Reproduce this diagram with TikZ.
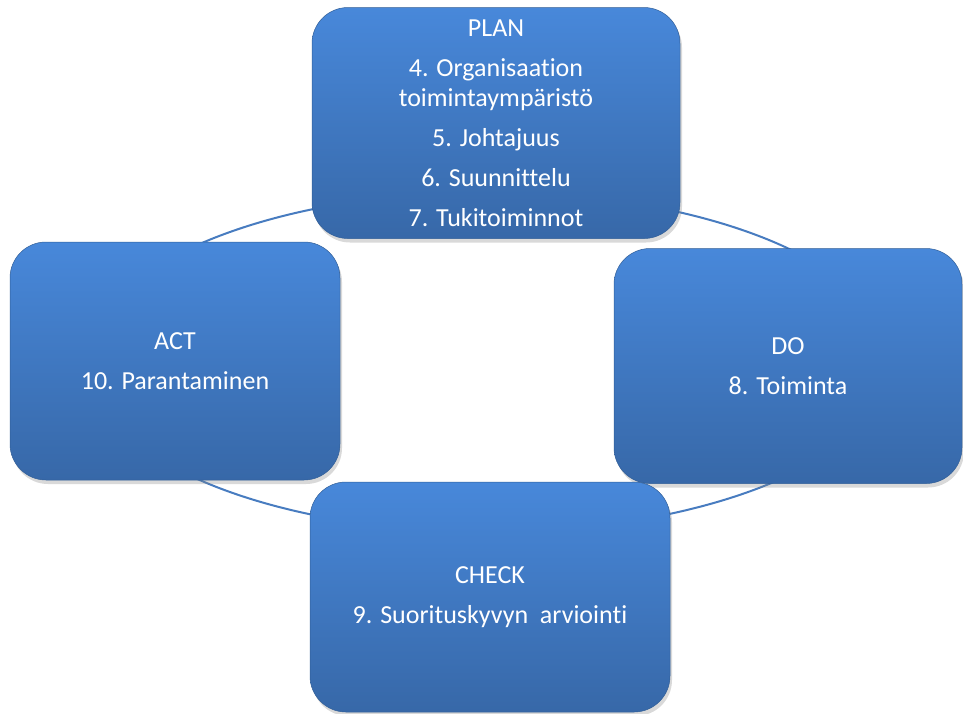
\documentclass[tikz,border=0pt]{standalone}
\usepackage{fontspec}
\setmainfont{Carlito}[Ligatures=NoCommon]
\usetikzlibrary{shadows}
\definecolor{boxtop}{RGB}{72,136,218}
\definecolor{boxbottom}{RGB}{55,104,168}
\definecolor{cycleline}{RGB}{72,124,192}
\tikzset{
	pdcabox/.style = {rectangle, rounded corners=36pt, top color=boxtop, bottom color=boxbottom,
		draw=boxbottom!90!black, line width=0.5pt, text=white, align=center, inner sep=0pt,
		font=\fontsize{26}{30}\selectfont,
		drop shadow={shadow xshift=2pt, shadow yshift=-4pt, opacity=0.3}},
	cycleline/.style = {draw=cycleline, line width=2pt}
}

\begin{document}
\begin{tikzpicture}[x=1pt, y=-1pt]
		\useasboundingbox (0,0) rectangle (963,713);
		% cycle behind the four stages
		\coordinate (cyc) at (489,362);
		\draw[cycleline] (cyc) ellipse [x radius=402pt, y radius=170pt];
		\node[pdcabox, minimum width=368pt, minimum height=231pt] (plan)  at (496,123)
			{PLAN\\[10pt]4. Organisaation\\toimintaympäristö\\[10pt]5. Johtajuus\\[10pt]6. Suunnittelu\\[10pt]7. Tukitoiminnot};
		\node[pdcabox, minimum width=330pt, minimum height=238pt] (act)   at (175,361)
			{ACT\\[10pt]10. Parantaminen};
		\node[pdcabox, minimum width=348pt, minimum height=235pt] (do)    at (788,366)
			{DO\\[10pt]8. Toiminta};
		\node[pdcabox, minimum width=360pt, minimum height=230pt] (check) at (490,597)
			{CHECK\\[10pt]9. Suorituskyvyn\ \ arviointi};
	\end{tikzpicture}
\end{document}
